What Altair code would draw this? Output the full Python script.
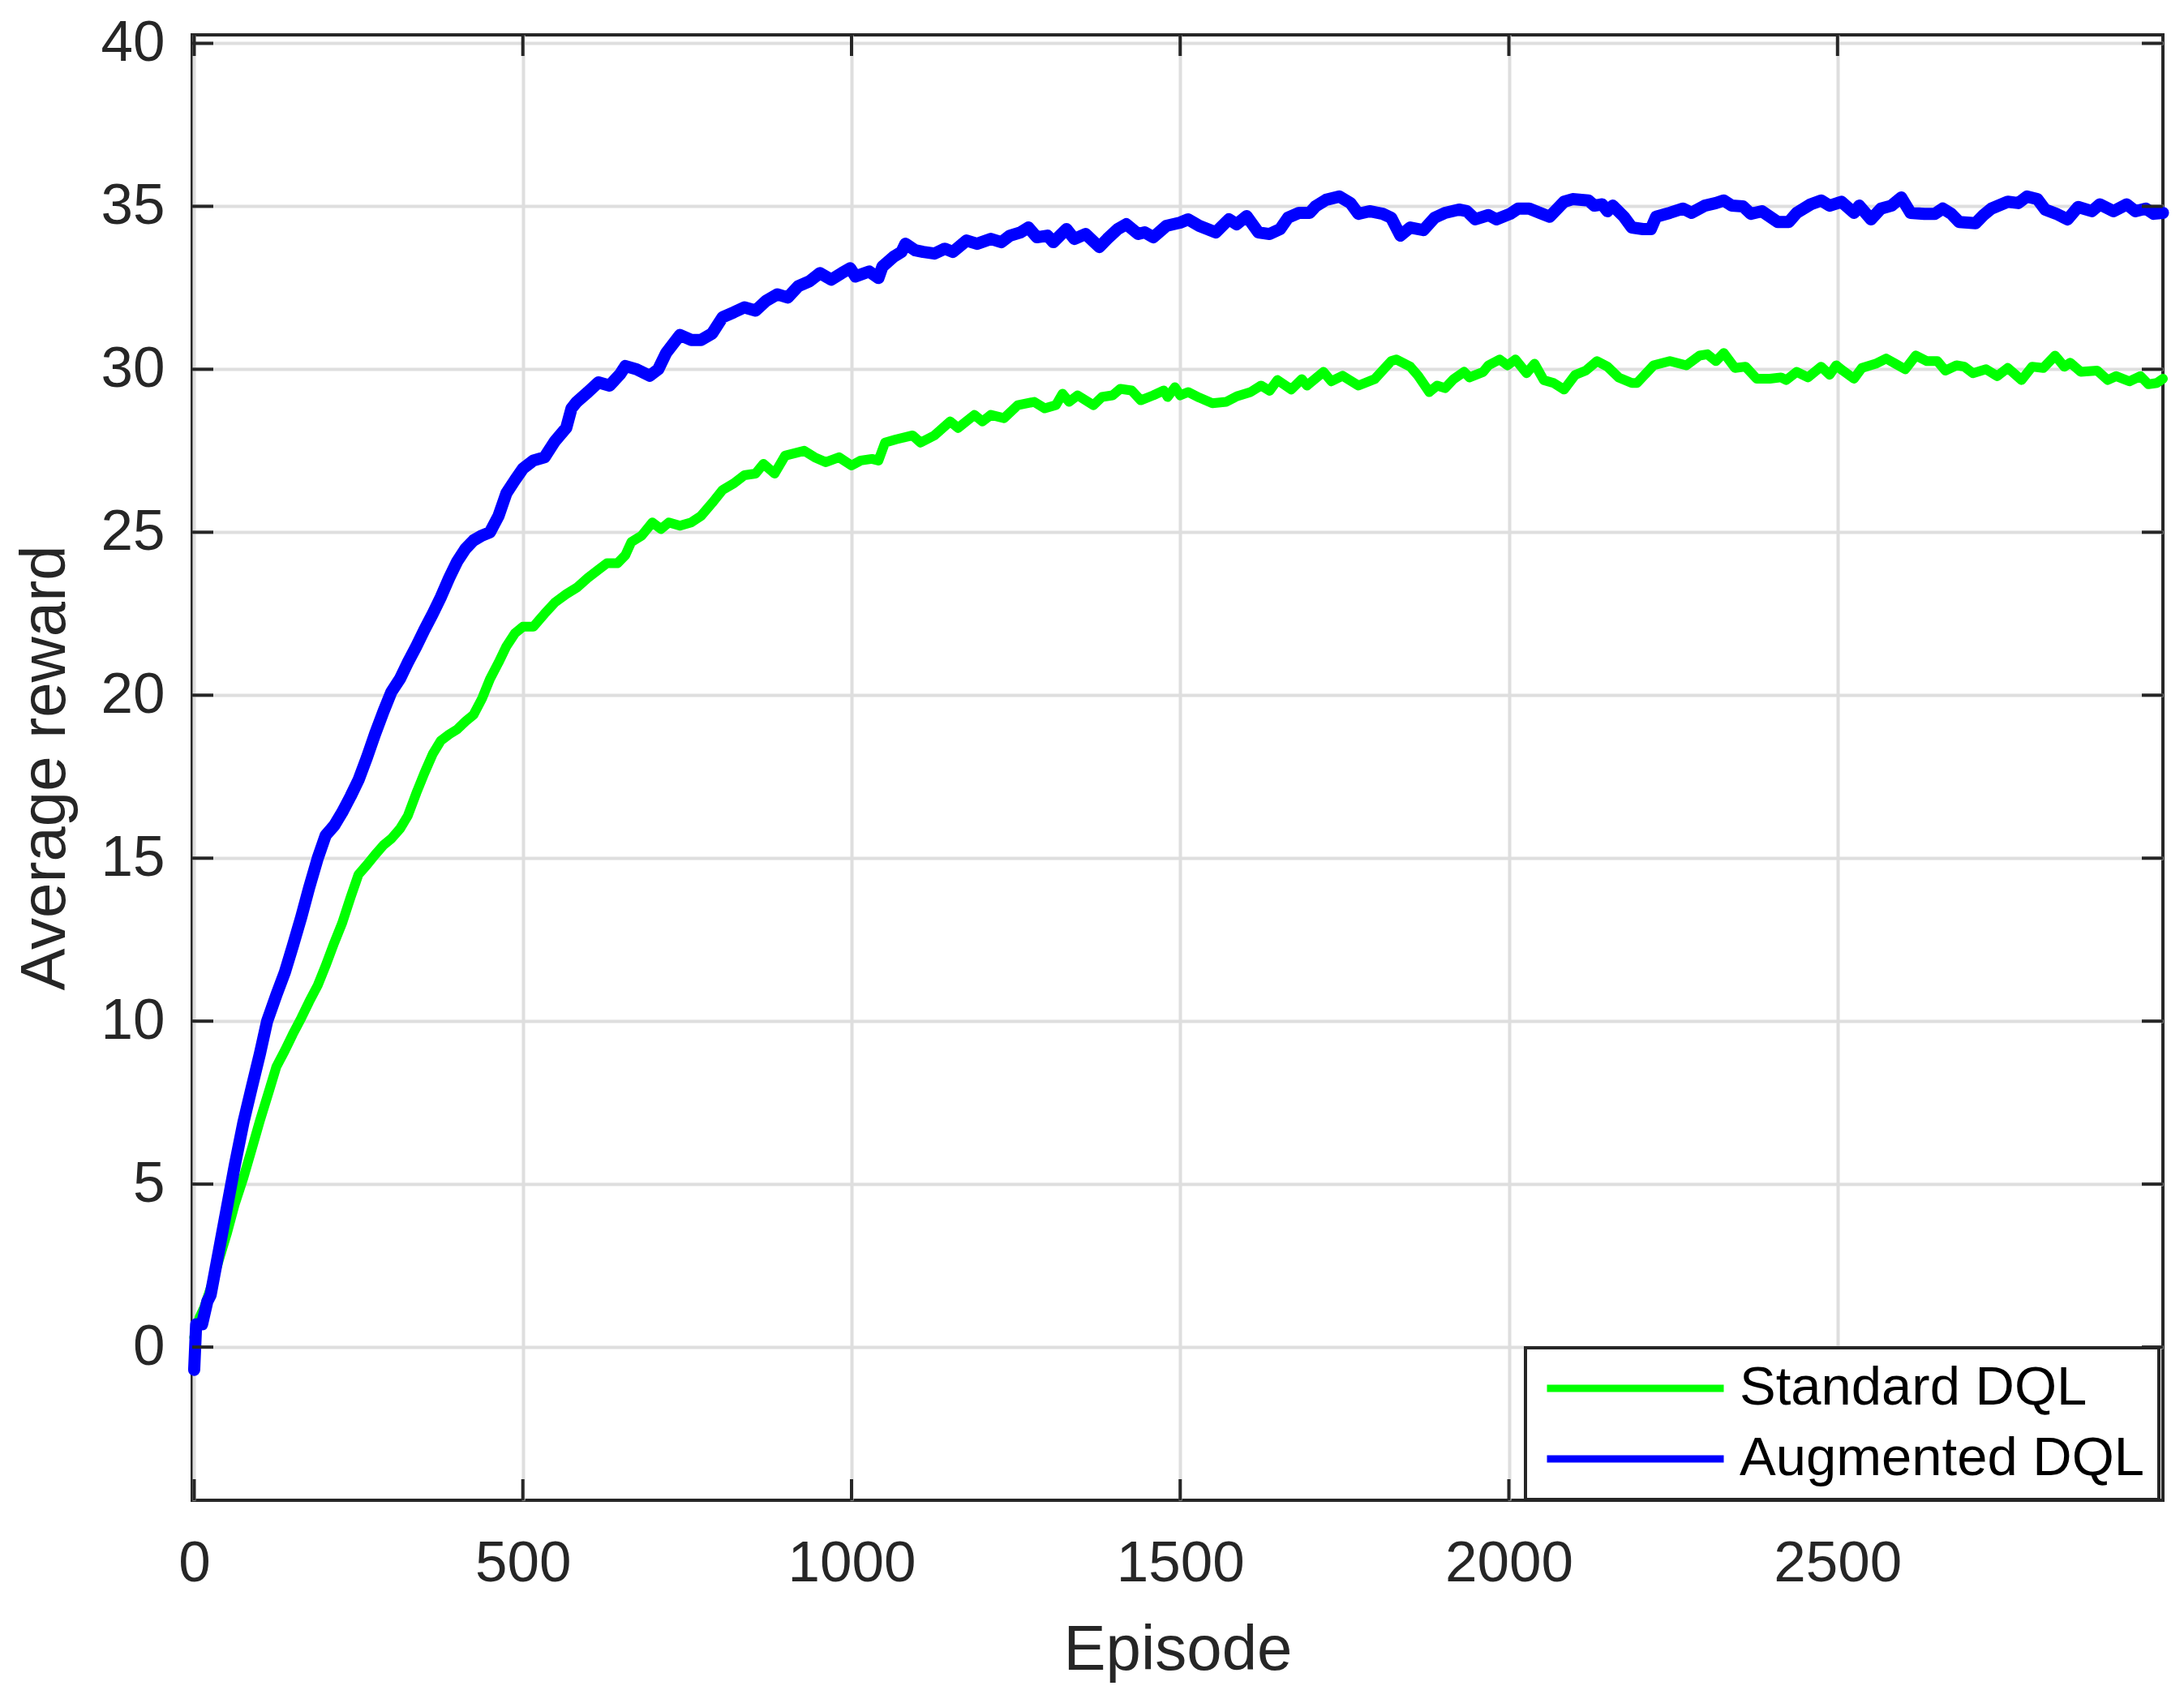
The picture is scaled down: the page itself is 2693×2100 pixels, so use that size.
import altair as alt
import pandas as pd

# ---- data ----
aug_ep = [0, 3, 12, 20, 25, 38, 50, 62, 75, 88, 100, 111, 125, 138, 150, 163, 175, 188, 200, 213,
          225, 238, 250, 263, 275, 288, 300, 313, 325, 338, 350, 363, 375, 388, 400, 413, 425, 438,
          450, 463, 475, 488, 500, 516, 533, 549, 566, 574, 582, 599, 615, 632, 648, 656, 673, 693,
          706, 718, 739, 756, 771, 788, 804, 821, 837, 854, 870, 887, 903, 919, 936, 952, 969, 985,
          998, 1006, 1027, 1041, 1047, 1064, 1076, 1082, 1097, 1109, 1126, 1142, 1154, 1175, 1191,
          1212, 1228, 1241, 1257, 1269, 1282, 1298, 1307, 1327, 1339, 1356, 1377, 1389, 1405, 1418,
          1436, 1446, 1459, 1479, 1500, 1512, 1529, 1554, 1574, 1586, 1601, 1619, 1636, 1652, 1664,
          1681, 1697, 1706, 1722, 1742, 1759, 1771, 1788, 1808, 1821, 1835, 1850, 1870, 1887, 1903,
          1924, 1936, 1949, 1969, 1981, 2002, 2014, 2031, 2047, 2062, 2084, 2097, 2121, 2130, 2142,
          2150, 2158, 2175, 2187, 2204, 2216, 2224, 2245, 2265, 2278, 2298, 2315, 2327, 2339, 2356,
          2368, 2385, 2409, 2426, 2438, 2459, 2475, 2488, 2506, 2525, 2533, 2551, 2566, 2582, 2597,
          2611, 2632, 2648, 2660, 2673, 2685, 2710, 2722, 2734, 2759, 2775, 2788, 2804, 2816, 2833,
          2850, 2866, 2887, 2899, 2920, 2940, 2953, 2969, 2981, 2995]
aug_val = [-0.7, 0.7, 0.7, 1.4, 1.6, 3.0, 4.3, 5.6, 6.9, 8.0, 9.0, 10.0, 10.8, 11.5, 12.3, 13.2,
           14.1, 15.0, 15.7, 16.0, 16.4, 16.9, 17.4, 18.1, 18.8, 19.5, 20.1, 20.5, 21.0, 21.5, 22.0,
           22.5, 23.0, 23.6, 24.1, 24.5, 24.75, 24.9, 25.0, 25.5, 26.2, 26.6, 26.95, 27.2, 27.3,
           27.8, 28.2, 28.8, 29.0, 29.3, 29.6, 29.5, 29.85, 30.1, 30.0, 29.8, 30.0, 30.5, 31.05,
           30.9, 30.9, 31.1, 31.6, 31.75, 31.9, 31.8, 32.1, 32.3, 32.2, 32.55, 32.7, 32.95, 32.75,
           32.95, 33.1, 32.85, 33.0, 32.8, 33.15, 33.45, 33.6, 33.85, 33.65, 33.6, 33.55, 33.7,
           33.6, 33.95, 33.85, 34.0, 33.9, 34.1, 34.2, 34.35, 34.05, 34.1, 33.9, 34.3, 34.0, 34.15,
           33.75, 34.0, 34.3, 34.45, 34.15, 34.2, 34.05, 34.4, 34.5, 34.6, 34.4, 34.2, 34.6, 34.45,
           34.7, 34.2, 34.15, 34.3, 34.65, 34.8, 34.8, 35.0, 35.2, 35.3, 35.1, 34.77, 34.85, 34.77,
           34.65, 34.1, 34.35, 34.27, 34.65, 34.8, 34.9, 34.85, 34.6, 34.73, 34.6, 34.77, 34.93,
           34.93, 34.8, 34.68, 35.14, 35.22, 35.18, 35.02, 35.06, 34.85, 35.02, 34.68, 34.35, 34.3,
           34.3, 34.68, 34.8, 34.93, 34.8, 35.02, 35.1, 35.18, 35.02, 35.0, 34.77, 34.85, 34.52,
           34.52, 34.8, 35.06, 35.18, 35.02, 35.14, 34.8, 35.02, 34.6, 34.93, 35.02, 35.27, 34.8,
           34.77, 34.77, 34.93, 34.77, 34.52, 34.48, 34.73, 34.93, 35.14, 35.1, 35.3, 35.22, 34.9,
           34.77, 34.6, 34.98, 34.85, 35.06, 34.85, 35.06, 34.85, 34.93, 34.77, 34.8]

std_ep = [0, 8, 15, 25, 38, 50, 62, 75, 88, 100, 113, 125, 138, 150, 163, 175, 188, 200, 213, 225,
          238, 250, 263, 275, 288, 300, 313, 325, 338, 350, 363, 375, 388, 400, 413, 425, 438, 450,
          463, 475, 488, 500, 516, 533, 549, 566, 582, 599, 615, 628, 644, 656, 665, 681, 697, 710,
          722, 739, 756, 771, 788, 804, 821, 837, 854, 866, 883, 899, 928, 944, 961, 981, 1000,
          1014, 1031, 1041, 1051, 1068, 1093, 1105, 1126, 1150, 1162, 1187, 1199, 1212, 1232, 1253,
          1278, 1294, 1311, 1321, 1331, 1344, 1368, 1381, 1397, 1409, 1426, 1440, 1459, 1475, 1481,
          1492, 1500, 1512, 1529, 1549, 1570, 1586, 1607, 1623, 1636, 1648, 1669, 1685, 1693, 1718,
          1730, 1747, 1771, 1796, 1821, 1829, 1850, 1862, 1879, 1891, 1903, 1916, 1932, 1940, 1961,
          1969, 1986, 1998, 2010, 2027, 2039, 2053, 2068, 2084, 2101, 2117, 2134, 2150, 2167, 2187,
          2195, 2220, 2245, 2270, 2290, 2302, 2315, 2327, 2344, 2360, 2377, 2397, 2414, 2422, 2438,
          2455, 2475, 2488, 2498, 2508, 2525, 2537, 2558, 2574, 2588, 2603, 2619, 2636, 2652, 2664,
          2681, 2693, 2706, 2726, 2743, 2759, 2780, 2796, 2813, 2831, 2845, 2854, 2870, 2895, 2911,
          2924, 2944, 2961, 2973, 2986, 2995]
std_val = [0.3, 0.9, 1.2, 1.8, 2.7, 3.5, 4.4, 5.2, 6.1, 6.95, 7.8, 8.6, 9.1, 9.6, 10.1, 10.6, 11.1,
           11.7, 12.4, 13.0, 13.8, 14.5, 14.8, 15.1, 15.4, 15.6, 15.9, 16.3, 17.0, 17.6, 18.2, 18.6,
           18.8, 18.95, 19.2, 19.4, 19.9, 20.5, 21.0, 21.5, 21.9, 22.1, 22.1, 22.5, 22.85, 23.1,
           23.3, 23.6, 23.85, 24.05, 24.05, 24.3, 24.7, 24.9, 25.3, 25.1, 25.3, 25.2, 25.3, 25.5,
           25.9, 26.3, 26.5, 26.75, 26.8, 27.1, 26.8, 27.35, 27.5, 27.3, 27.15, 27.3, 27.05, 27.2,
           27.25, 27.2, 27.75, 27.85, 27.97, 27.75, 27.97, 28.4, 28.2, 28.6, 28.4, 28.6, 28.5, 28.9,
           29.0, 28.8, 28.9, 29.25, 29.0, 29.2, 28.9, 29.15, 29.2, 29.4, 29.35, 29.05, 29.2, 29.35,
           29.15, 29.45, 29.2, 29.3, 29.13, 28.96, 29.0, 29.17, 29.3, 29.5, 29.34, 29.67, 29.38,
           29.7, 29.5, 29.92, 29.63, 29.8, 29.5, 29.7, 30.25, 30.3, 30.08, 29.8, 29.3, 29.5, 29.42,
           29.7, 29.92, 29.75, 29.92, 30.12, 30.3, 30.12, 30.3, 29.88, 30.17, 29.67, 29.58, 29.38,
           29.83, 29.96, 30.25, 30.08, 29.75, 29.58, 29.58, 30.12, 30.25, 30.12, 30.42, 30.46,
           30.25, 30.5, 30.04, 30.08, 29.71, 29.71, 29.75, 29.67, 29.92, 29.75, 30.08, 29.83, 30.12,
           29.96, 29.71, 30.04, 30.17, 30.33, 30.17, 30.0, 30.42, 30.25, 30.25, 29.96, 30.12, 30.08,
           29.88, 30.0, 29.79, 30.04, 29.67, 30.08, 30.04, 30.42, 30.08, 30.2, 29.92, 29.96, 29.67,
           29.79, 29.63, 29.79, 29.54, 29.58, 29.71]

series_names = ["Standard DQL", "Augmented DQL"]
series_colors = ["#00ff00", "#0000ff"]
x_ticks = [0, 500, 1000, 1500, 2000, 2500]
y_ticks = [0, 5, 10, 15, 20, 25, 30, 35, 40]
x_domain = [-3, 2995]
y_domain = [-4.7, 40.26]

W, H = 2430, 1807
TICK = 26
FONT = "Liberation Sans"
INK = "#262626"

std_df = pd.DataFrame({"episode": std_ep, "reward": std_val, "series": series_names[0]})
aug_df = pd.DataFrame({"episode": aug_ep, "reward": aug_val, "series": series_names[1]})
xt_df = pd.DataFrame({"episode": x_ticks})
yt_df = pd.DataFrame({"reward": y_ticks})

xs = alt.Scale(domain=x_domain, nice=False, zero=False)
ys = alt.Scale(domain=y_domain, nice=False, zero=False)
color = alt.Color(
    "series:N",
    scale=alt.Scale(domain=series_names, range=series_colors),
    legend=alt.Legend(title=None, labelLimit=2000, labelExpr="datum.label + ' '"),
)

x_axis = alt.Axis(
    title="Episode", values=x_ticks, format="d", grid=True, labelFlush=False, labelOverlap=False,
    labelBaseline="alphabetic", labelPadding=99, titleX=W / 2, titleY=208,
    titleAlign="center", titleBaseline="alphabetic",
)
y_axis = alt.Axis(
    title="Average reward", values=y_ticks, format="d", grid=True, labelOverlap=False,
    labelBaseline="middle", labelPadding=34, titleX=-158, titleY=H / 2,
    titleAlign="center", titleBaseline="alphabetic", titleAngle=270,
)
X = alt.X("episode:Q", scale=xs, axis=x_axis, title="Episode")
Y = alt.Y("reward:Q", scale=ys, axis=y_axis, title="Average reward")


def line_layer(df, width):
    return alt.Chart(df).mark_line(strokeWidth=width, strokeJoin="round", strokeCap="round").encode(
        x=X, y=Y, color=color,
    )


std_line = line_layer(std_df, 12)
aug_line = line_layer(aug_df, 15)

tick_style = dict(color=INK, strokeWidth=4)
bottom_ticks = alt.Chart(xt_df).mark_rule(**tick_style).encode(
    x=X, y=alt.value(H), y2=alt.value(H - TICK))
top_ticks = alt.Chart(xt_df).mark_rule(**tick_style).encode(
    x=X, y=alt.value(0), y2=alt.value(TICK))
left_ticks = alt.Chart(yt_df).mark_rule(**tick_style).encode(
    y=Y, x=alt.value(0), x2=alt.value(TICK))
right_ticks = alt.Chart(yt_df).mark_rule(**tick_style).encode(
    y=Y, x=alt.value(W - TICK), x2=alt.value(W))

chart = alt.layer(
    std_line, aug_line, bottom_ticks, top_ticks, left_ticks, right_ticks
).properties(
    width=W, height=H,
    autosize=alt.AutoSizeParams(type="none"),
    padding={"left": 229, "top": 35, "right": 17, "bottom": 240},
    background="white",
).configure_view(
    stroke=INK, strokeWidth=4, fill="white",
).configure_axis(
    domain=False, ticks=False,
    gridColor="#dedede", gridWidth=4, gridOpacity=1,
    labelFont=FONT, labelFontSize=71, labelColor=INK,
    titleFont=FONT, titleFontSize=78, titleFontWeight="normal", titleColor=INK,
).configure_legend(
    orient="none", legendX=1644, legendY=1619,
    strokeColor=INK, strokeWidth=4, fillColor="white", padding=17,
    symbolType="stroke", symbolSize=47524, symbolStrokeWidth=9, symbolOffset=5,
    clipHeight=66, rowPadding=20, labelFont=FONT, labelFontSize=67, labelColor="black",
    labelOffset=15, labelLimit=2000,
)

chart.save("out.html", embed_options={"renderer": "svg", "actions": False})
